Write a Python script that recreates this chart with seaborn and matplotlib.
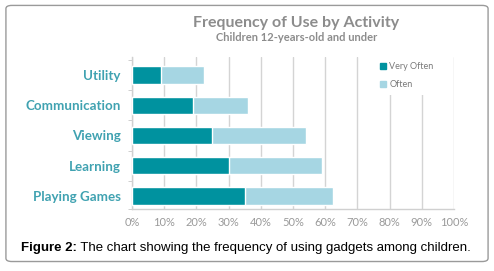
import numpy as np
import pandas as pd
import matplotlib
matplotlib.use("Agg")
import matplotlib.pyplot as plt
import seaborn as sns
from matplotlib.patches import FancyBboxPatch, Patch

activities = ["Utility", "Communication", "Viewing", "Learning", "Playing Games"]
very_often = [9, 19, 25, 30, 35]
often = [13.5, 17, 29, 29, 27.5]
x_ticks = [0, 10, 20, 30, 40, 50, 60, 70, 80, 90, 100]

dark = "#00929f"
light = "#a6d6e3"
label_col = "#40a2b1"
grey = "#8c8c8c"

df = pd.DataFrame({"activity": activities,
                   "very_often": very_often,
                   "total": np.array(very_often) + np.array(often)})

sns.set_style("white")
plt.rcParams["font.family"] = ["Lato", "DejaVu Sans"]

fig = plt.figure(figsize=(4.94, 2.71), dpi=100)
fig.patches.append(FancyBboxPatch((0.012, 0.035), 0.976, 0.945,
                                  boxstyle="round,pad=0,rounding_size=0.012",
                                  transform=fig.transFigure, fill=False,
                                  edgecolor="#9a9a9a", linewidth=1.0))

ax = fig.add_axes([0.267, 0.229, 0.652, 0.561])
sns.barplot(data=df, x="total", y="activity", color=light, width=0.58,
            orient="h", saturation=1, ax=ax, zorder=3)
sns.barplot(data=df, x="very_often", y="activity", color=dark, width=0.58,
            orient="h", saturation=1, ax=ax, zorder=4)

ax.set_xlim(0, 100)
ax.set_ylim(4.43, -0.6)
ax.set_xticks(x_ticks)
ax.set_xticklabels([f"{t}%" for t in x_ticks], color="#9a9a9a", fontsize=8)
ax.set_yticks(range(len(activities)))
ax.set_yticklabels(activities, color=label_col, fontsize=9.6, fontweight="bold")
ax.set_yticks([-0.5, 0.5, 1.5, 2.5, 3.5, 4.43], minor=True)
ax.tick_params(axis="y", which="major", length=0, pad=8)
ax.tick_params(axis="y", which="minor", length=3, color="#c8c8c8", left=True)
ax.tick_params(axis="x", length=0, pad=6)
ax.set_xlabel("")
ax.set_ylabel("")
ax.grid(axis="x", color="#d4d4d4", linewidth=1.0, zorder=0)
for side in ["top", "right"]:
    ax.spines[side].set_visible(False)
for side in ["left", "bottom"]:
    ax.spines[side].set_color("#d0d0d0")
    ax.spines[side].set_linewidth(1.0)

handles = [Patch(color=dark, label="Very Often"), Patch(color=light, label="Often")]
leg = ax.legend(handles=handles, loc="upper left", bbox_to_anchor=(0.74, 1.03),
                frameon=True, fontsize=6.5, handlelength=0.6, handleheight=0.6,
                handletextpad=0.4, labelspacing=1.0, borderpad=0.6)
leg.get_frame().set_edgecolor("none")
leg.get_frame().set_facecolor("white")
leg.get_frame().set_alpha(1)
for t in leg.get_texts():
    t.set_color("#7a7a7a")

fig.text(0.6, 0.915, "Frequency of Use by Activity", ha="center", va="center",
         fontsize=11.5, fontweight="bold", color=grey)
fig.text(0.6, 0.862, "Children 12-years-old and under", ha="center", va="center",
         fontsize=8, fontweight="bold", color=grey)

# caption: bold lead-in, then regular text placed right after it
cap_y = 0.085
t1 = fig.text(0.042, cap_y, "Figure 2:", ha="left", va="center", fontsize=9.5,
              fontweight="bold", color="black", family="Liberation Sans")
fig.canvas.draw()
bb = t1.get_window_extent().transformed(fig.transFigure.inverted())
fig.text(bb.x1, cap_y, " The chart showing the frequency of using gadgets among children.",
         ha="left", va="center", fontsize=9.5, color="black", family="Liberation Sans")

fig.savefig("out.png", dpi=100)
